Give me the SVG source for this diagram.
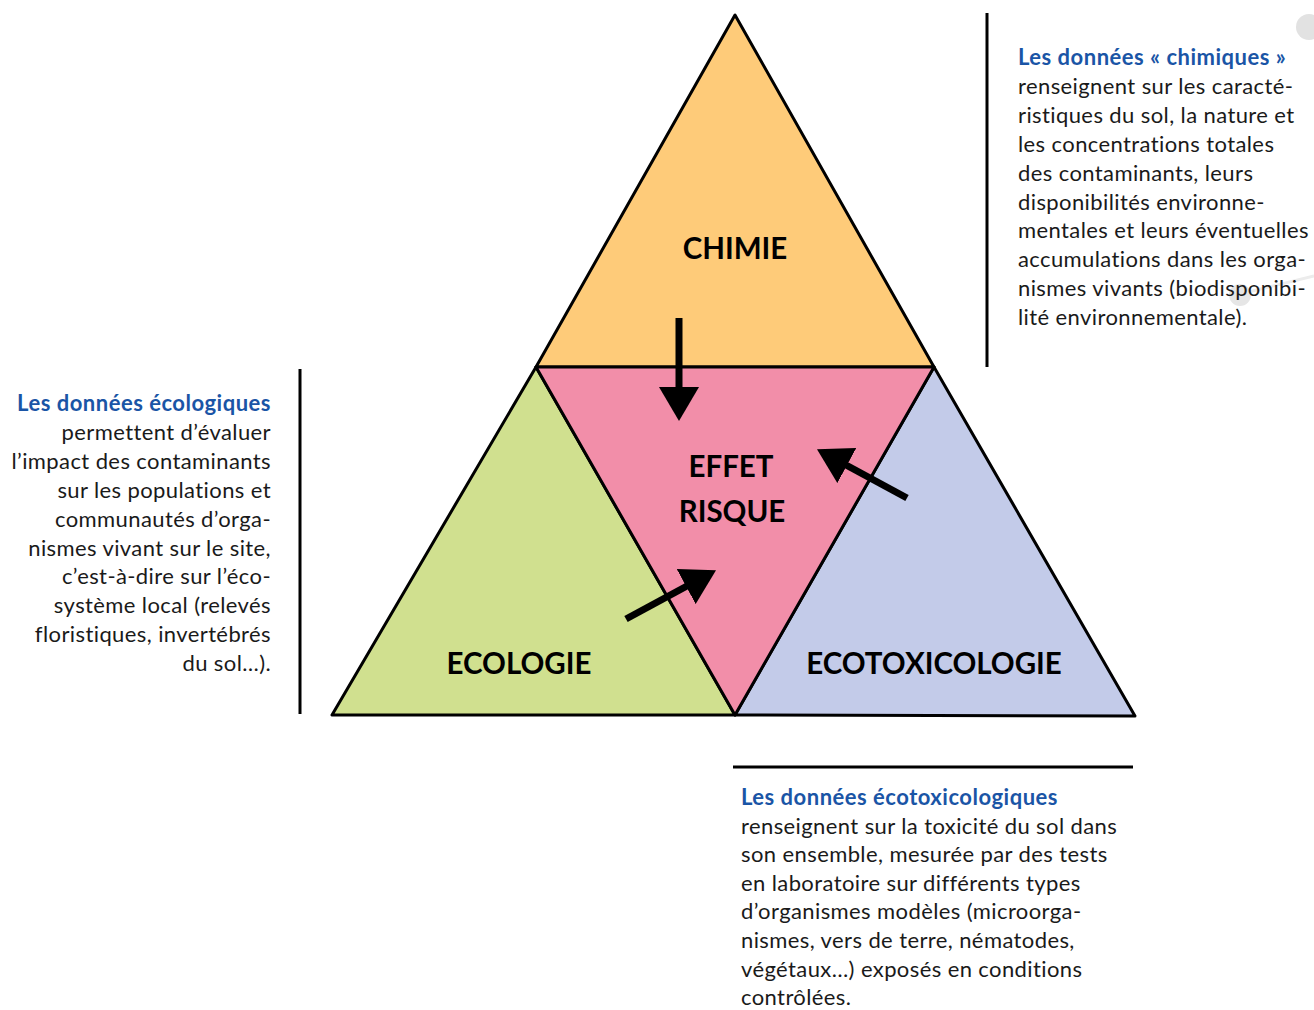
<svg xmlns="http://www.w3.org/2000/svg" width="1314" height="1010" viewBox="0 0 1314 1010">
<style>
.tri{stroke:#000;stroke-width:3;stroke-linejoin:round}
.lbl{font-family:Lato,"Liberation Sans",sans-serif;font-weight:bold;font-size:29.5px;fill:#000;text-anchor:middle}
.body{font-family:Lato,"Liberation Sans",sans-serif;font-size:22px;letter-spacing:0.4px;fill:#1a1a1a}
.ttl{font-weight:bold;fill:#1a55a6;letter-spacing:0.5px}
.rule{stroke:#000;stroke-width:3}
.arr{stroke:#000;stroke-width:7;fill:none;marker-end:url(#head)}
</style>
<defs>
<marker id="head" markerUnits="userSpaceOnUse" viewBox="0 0 34 40" markerWidth="34" markerHeight="40" refX="1" refY="20" orient="auto">
<path d="M0,0 L34,20 L0,40 z" fill="#000"/>
</marker>
</defs>
<rect width="1314" height="1010" fill="#fff"/>
<g id="decor" fill="#e2e2e2">
<circle cx="1309" cy="27" r="13"/>
<line x1="1240" y1="294" x2="1314" y2="276" stroke="#ececec" stroke-width="3"/>
<circle cx="1240" cy="295" r="11" fill="#e6e6e6"/>
</g>
<g id="chimie">
<polygon class="tri" points="735,15 536,367 934,367" fill="#fecb79"/>
<text class="lbl" x="735" y="259">CHIMIE</text>
</g>
<g id="ecologie">
<polygon class="tri" points="536,367 332,715 735,715" fill="#d0e08f"/>
<text class="lbl" x="519" y="674">ECOLOGIE</text>
</g>
<g id="ecotoxicologie">
<polygon class="tri" points="934,367 735,715 1135,716" fill="#c3cbe9"/>
<text class="lbl" x="934" y="674">ECOTOXICOLOGIE</text>
</g>
<g id="effet-risque">
<polygon class="tri" points="536,367 934,367 735,715" fill="#f28ea9"/>
<text class="lbl" x="731" y="477">EFFET</text>
<text class="lbl" x="732" y="522">RISQUE</text>
</g>
<g id="connectors">
<line class="arr" x1="679" y1="318" x2="679" y2="388"/>
<line class="arr" x1="626" y1="619" x2="687" y2="586"/>
<line class="arr" x1="907" y1="498" x2="846" y2="465"/>
</g>
<g id="note-chimie">
<line class="rule" x1="987" y1="13" x2="987" y2="367"/>
<text class="body" x="1018" y="65"><tspan class="ttl">Les données « chimiques »</tspan><tspan x="1018" dy="28.9">renseignent sur les caracté-</tspan><tspan x="1018" dy="28.9">ristiques du sol, la nature et</tspan><tspan x="1018" dy="28.9">les concentrations totales</tspan><tspan x="1018" dy="28.9">des contaminants, leurs</tspan><tspan x="1018" dy="28.9">disponibilités environne-</tspan><tspan x="1018" dy="28.9">mentales et leurs éventuelles</tspan><tspan x="1018" dy="28.9">accumulations dans les orga-</tspan><tspan x="1018" dy="28.9">nismes vivants (biodisponibi-</tspan><tspan x="1018" dy="28.9">lité environnementale).</tspan></text>
</g>
<g id="note-ecologie">
<line class="rule" x1="300" y1="369" x2="300" y2="714"/>
<text class="body" x="271" y="411" text-anchor="end"><tspan class="ttl">Les données écologiques</tspan><tspan x="271" dy="28.9">permettent d’évaluer</tspan><tspan x="271" dy="28.9">l’impact des contaminants</tspan><tspan x="271" dy="28.9">sur les populations et</tspan><tspan x="271" dy="28.9">communautés d’orga-</tspan><tspan x="271" dy="28.9">nismes vivant sur le site,</tspan><tspan x="271" dy="28.9">c’est-à-dire sur l’éco-</tspan><tspan x="271" dy="28.9">système local (relevés</tspan><tspan x="271" dy="28.9">floristiques, invertébrés</tspan><tspan x="271" dy="28.9">du sol…).</tspan></text>
</g>
<g id="note-ecotox">
<line class="rule" x1="733" y1="767" x2="1133" y2="767"/>
<text class="body" x="741" y="805"><tspan class="ttl">Les données écotoxicologiques</tspan><tspan x="741" dy="28.6">renseignent sur la toxicité du sol dans</tspan><tspan x="741" dy="28.6">son ensemble, mesurée par des tests</tspan><tspan x="741" dy="28.6">en laboratoire sur différents types</tspan><tspan x="741" dy="28.6">d’organismes modèles (microorga-</tspan><tspan x="741" dy="28.6">nismes, vers de terre, nématodes,</tspan><tspan x="741" dy="28.6">végétaux…) exposés en conditions</tspan><tspan x="741" dy="28.6">contrôlées.</tspan></text>
</g>
</svg>
